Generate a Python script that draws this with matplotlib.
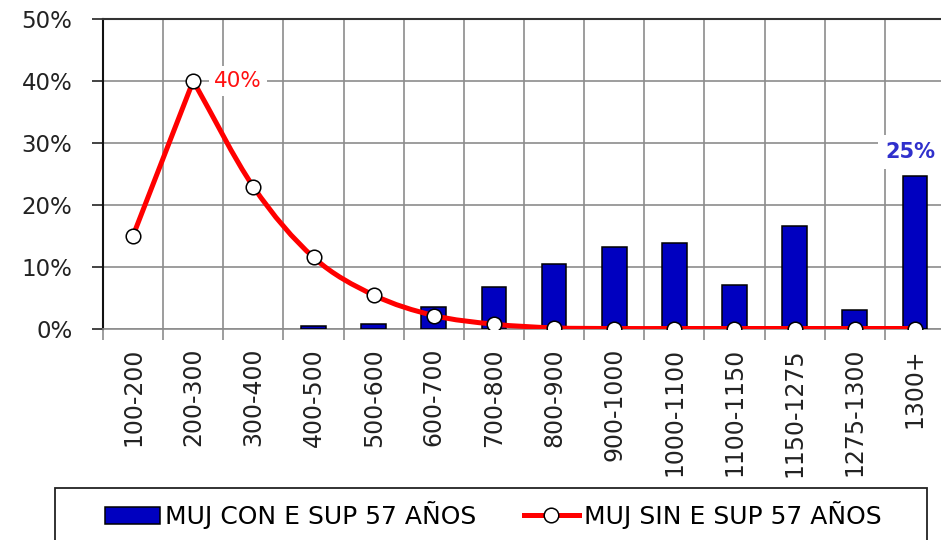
import numpy as np
import matplotlib
matplotlib.use("Agg")
import matplotlib.pyplot as plt
from matplotlib.path import Path
from matplotlib.patches import PathPatch, Rectangle
from matplotlib.lines import Line2D
from matplotlib.ticker import FuncFormatter

categories = ["100-200", "200-300", "300-400", "400-500", "500-600", "600-700",
              "700-800", "800-900", "900-1000", "1000-1100", "1100-1150",
              "1150-1275", "1275-1300", "1300+"]
con_e = [0.0, 0.0, 0.0, 0.4, 0.7, 3.4, 6.7, 10.5, 13.2, 13.8, 7.0, 16.5, 3.0, 24.7]
sin_e = [15.0, 40.0, 22.9, 11.5, 5.4, 2.1, 0.7, 0.1, 0.0, 0.0, 0.0, 0.0, 0.0, 0.0]
series_names = ["MUJ CON E SUP 57 AÑOS", "MUJ SIN E SUP 57 AÑOS"]
yticks = [0, 10, 20, 30, 40, 50]

W, H = 941, 540
fig = plt.figure(figsize=(W / 100, H / 100), dpi=100)
ax = fig.add_axes([103 / W, 1 - 328.5 / H, 842 / W, 309.5 / H])

x = np.arange(len(categories))
con = np.array(con_e)
mask = con > 0
ax.bar(x[mask], con[mask], width=0.41, color="#0000C0", edgecolor="black",
       linewidth=1.1, zorder=3)

# smoothed line (Bezier through the points, sharp at local extrema)
xs = x.astype(float)
ys = np.array(sin_e, dtype=float)
pts = np.column_stack([xs, ys])
n = len(pts)


def is_extremum(i):
    if i <= 0 or i >= n - 1:
        return False
    a = ys[i] - ys[i - 1]
    b = ys[i + 1] - ys[i]
    return a * b < 0


verts = [tuple(pts[0])]
codes = [Path.MOVETO]
for i in range(n - 1):
    p0 = pts[max(i - 1, 0)]
    p1 = pts[i]
    p2 = pts[i + 1]
    p3 = pts[min(i + 2, n - 1)]
    if is_extremum(i) or i == 0:
        c1 = p1 + (p2 - p1) / 3.0
    else:
        c1 = p1 + (p2 - p0) / 6.0
    if is_extremum(i + 1) or i + 1 == n - 1:
        c2 = p2 - (p2 - p1) / 3.0
    else:
        c2 = p2 - (p3 - p1) / 6.0
    verts += [tuple(c1), tuple(c2), tuple(p2)]
    codes += [Path.CURVE4] * 3
ax.add_patch(PathPatch(Path(verts, codes), facecolor="none", edgecolor="#FF0000",
                       linewidth=3.6, zorder=4, capstyle="round", joinstyle="round"))
ax.plot(xs, ys, linestyle="none", marker="o", markersize=10.5,
        markerfacecolor="white", markeredgecolor="black", markeredgewidth=1.1, zorder=5)

ax.set_xlim(-0.5, len(categories) - 0.5)
ax.set_ylim(0, 50)
ax.set_xticks(x)
ax.set_xticklabels(categories, rotation=90, fontsize=17, color="#222222")
ax.set_xticks(np.arange(-0.5, len(categories), 1.0), minor=True)
ax.set_yticks(yticks)
ax.yaxis.set_major_formatter(FuncFormatter(lambda v, p: f"{int(v)}%"))
ax.tick_params(axis="y", labelsize=16.5, length=8, width=1.2, pad=14,
               colors="#222222")
ax.tick_params(axis="x", which="major", length=0, pad=14)
ax.tick_params(axis="x", which="minor", length=8, width=1.2, color="#8c8c8c")
ax.grid(True, axis="y", which="major", color="#8c8c8c", linewidth=1.2, zorder=0)
ax.grid(True, axis="x", which="minor", color="#8c8c8c", linewidth=1.2, zorder=0)
ax.set_axisbelow(True)

ax.spines["left"].set_color("#111111")
ax.spines["left"].set_linewidth(1.5)
ax.spines["top"].set_color("#333333")
ax.spines["top"].set_linewidth(1.5)
ax.spines["bottom"].set_color("#8c8c8c")
ax.spines["bottom"].set_linewidth(1.2)
ax.spines["right"].set_visible(False)

ax.annotate(f"{sin_e[1]:.0f}%", xy=(1, sin_e[1]), xytext=(15, 0),
            textcoords="offset points", ha="left", va="center", fontsize=15.5,
            color="#FF1010", zorder=6,
            bbox=dict(boxstyle="square,pad=0.25", facecolor="white", edgecolor="none"))
ax.annotate(f"{con_e[-1]:.0f}%", xy=(13, con_e[-1]), xytext=(-3, 17),
            textcoords="offset points", ha="center", va="center", fontsize=15,
            color="#3030CC", fontweight="bold", zorder=6,
            bbox=dict(boxstyle="square,pad=0.35", facecolor="white", edgecolor="none"))

# legend
handles = [Rectangle((0, 0), 1, 1, facecolor="#0000C0", edgecolor="black", linewidth=1.1),
           Line2D([], [], color="#FF0000", linewidth=3.6, marker="o", markersize=10.5,
                  markerfacecolor="white", markeredgecolor="black", markeredgewidth=1.1)]
fig.legend(handles, series_names, loc="center left",
           bbox_to_anchor=(105 / W, 1 - 515 / H), ncol=2, frameon=False,
           fontsize=18, handlelength=2.2, handletextpad=0.2, columnspacing=1.9,
           borderpad=0, borderaxespad=0)
fig.add_artist(Rectangle((55 / W, 1 - 548 / H), 872 / W, 60 / H,
                         transform=fig.transFigure, facecolor="none",
                         edgecolor="#222222", linewidth=1.3))

fig.savefig("out.png", dpi=100)
